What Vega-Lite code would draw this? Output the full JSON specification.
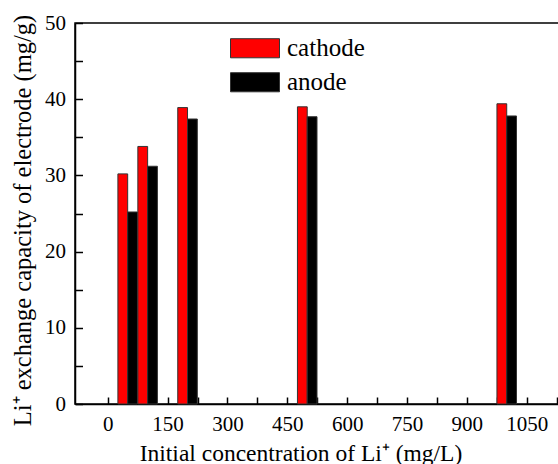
{
  "$schema": "https://vega.github.io/schema/vega-lite/v6.json",
  "width": 485,
  "height": 381,
  "autosize": {"type": "none"},
  "padding": {"left": 75, "top": 23, "right": 0, "bottom": 60},
  "background": "white",
  "config": {
    "view": {"stroke": "black", "strokeWidth": 1.5},
    "font": "Liberation Serif",
    "axis": {
      "grid": false,
      "domainColor": "black",
      "domainWidth": 1.5,
      "tickColor": "black",
      "tickWidth": 1.5,
      "labelFont": "Liberation Serif",
      "labelFontSize": 21,
      "labelColor": "black",
      "titleFont": "Liberation Serif",
      "titleFontWeight": "normal",
      "titleColor": "black"
    }
  },
  "data": {
    "values": [
      {"conc": 50, "electrode": "cathode", "capacity": 30.2},
      {"conc": 50, "electrode": "anode", "capacity": 25.2},
      {"conc": 100, "electrode": "cathode", "capacity": 33.8},
      {"conc": 100, "electrode": "anode", "capacity": 31.2},
      {"conc": 200, "electrode": "cathode", "capacity": 38.9},
      {"conc": 200, "electrode": "anode", "capacity": 37.4},
      {"conc": 500, "electrode": "cathode", "capacity": 39.0},
      {"conc": 500, "electrode": "anode", "capacity": 37.7},
      {"conc": 1000, "electrode": "cathode", "capacity": 39.4},
      {"conc": 1000, "electrode": "anode", "capacity": 37.8}
    ]
  },
  "transform": [
    {"calculate": "datum.electrode === 'cathode' ? datum.conc - 24.5 : datum.conc", "as": "x0"},
    {"calculate": "datum.x0 + 24.5", "as": "x1"}
  ],
  "mark": {"type": "bar", "stroke": "#333333", "strokeWidth": 1, "orient": "vertical"},
  "encoding": {
    "x": {
      "field": "x0",
      "type": "quantitative",
      "scale": {"domain": [-69.5, 1121], "nice": false, "zero": false},
      "axis": {
        "title": "Initial concentration of Li⁺ (mg/L)",
        "titleFontSize": 23.5,
        "values": [0, 75, 150, 225, 300, 375, 450, 525, 600, 675, 750, 825, 900, 975, 1050, 1125],
        "format": "d",
        "labelExpr": "datum.value % 150 === 0 ? datum.label : ''",
        "tickSize": -7,
        "encode": {"ticks": {"update": {"y2": {"signal": "datum.value % 150 === 0 ? -7 : -4"}}}},
        "labelPadding": 16.5,
        "titleX": 225.5,
        "titleY": 56,
        "titleBaseline": "alphabetic",
        "titleAnchor": "middle"
      }
    },
    "x2": {"field": "x1"},
    "y": {
      "field": "capacity",
      "type": "quantitative",
      "scale": {"domain": [0, 50], "nice": false},
      "axis": {
        "title": "Li⁺ exchange capacity of electrode (mg/g)",
        "titleFontSize": 24.5,
        "values": [0, 5, 10, 15, 20, 25, 30, 35, 40, 45, 50],
        "labelExpr": "datum.value % 10 === 0 ? datum.label : ''",
        "tickSize": -7.5,
        "encode": {"ticks": {"update": {"x2": {"signal": "datum.value % 10 === 0 ? 7.5 : 4"}}}},
        "labelPadding": 17,
        "titleX": -45,
        "titleY": 197,
        "titleAngle": -90,
        "titleBaseline": "alphabetic",
        "titleAnchor": "middle"
      }
    },
    "y2": {"datum": 0},
    "color": {
      "field": "electrode",
      "type": "nominal",
      "scale": {"domain": ["cathode", "anode"], "range": ["#ff0000", "#000000"]},
      "legend": {
        "title": null,
        "orient": "none",
        "legendX": 155,
        "legendY": 8.5,
        "symbolType": "M-1,-0.39H1V0.39H-1Z",
        "symbolSize": 2401,
        "symbolStrokeColor": "#333333",
        "symbolStrokeWidth": 1,
        "symbolOpacity": 1,
        "labelFont": "Liberation Serif",
        "labelFontSize": 25,
        "labelColor": "black",
        "labelOffset": 7,
        "clipHeight": 33.5,
        "rowPadding": 0
      }
    }
  }
}
